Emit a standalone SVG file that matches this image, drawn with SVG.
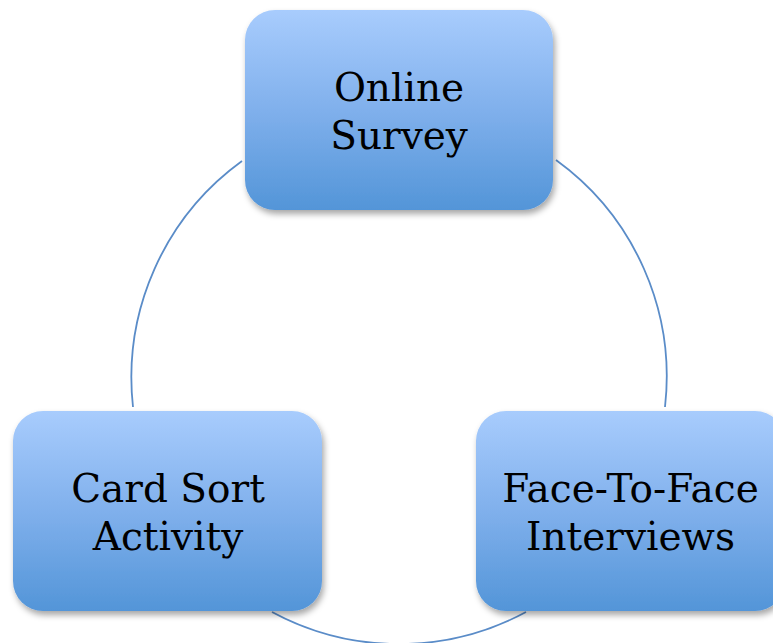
<svg xmlns="http://www.w3.org/2000/svg" width="773" height="643" viewBox="0 0 773 643">
<defs>
<linearGradient id="g" x1="0" y1="0" x2="0" y2="1">
<stop offset="0" stop-color="#a8ccfd"/>
<stop offset="0.5" stop-color="#80b0ec"/>
<stop offset="1" stop-color="#5395d8"/>
</linearGradient>
<filter id="sh" x="-10%" y="-10%" width="125%" height="130%">
<feDropShadow dx="2" dy="4" stdDeviation="3" flood-color="#000" flood-opacity="0.35"/>
</filter>
</defs>
<style>
.box{fill:url(#g);filter:url(#sh)}
.lbl{font-family:"DejaVu Serif",serif;font-size:39px;fill:#000;text-anchor:middle}
.arc{fill:none;stroke:#5a8cc8;stroke-width:1.8}
</style>
<rect width="773" height="643" fill="#fff"/>
<g id="connectors">
<path class="arc" d="M 242 161 A 267.6 267.6 0 0 0 133 407"/>
<path class="arc" d="M 556 160 A 267.6 267.6 0 0 1 665 407"/>
<path class="arc" d="M 526 612 A 267.6 267.6 0 0 1 272 612"/>
</g>
<g id="online-survey">
<rect class="box" x="245" y="10" width="308" height="200" rx="30"/>
<text class="lbl" x="399" y="101">Online</text>
<text class="lbl" x="399" y="149">Survey</text>
</g>
<g id="card-sort">
<rect class="box" x="13" y="411" width="309" height="200" rx="30"/>
<text class="lbl" x="168" y="502">Card Sort</text>
<text class="lbl" x="168" y="550">Activity</text>
</g>
<g id="face-to-face">
<rect class="box" x="476" y="411" width="309" height="200" rx="30"/>
<text class="lbl" x="630.5" y="502">Face-To-Face</text>
<text class="lbl" x="630.5" y="550">Interviews</text>
</g>
</svg>
